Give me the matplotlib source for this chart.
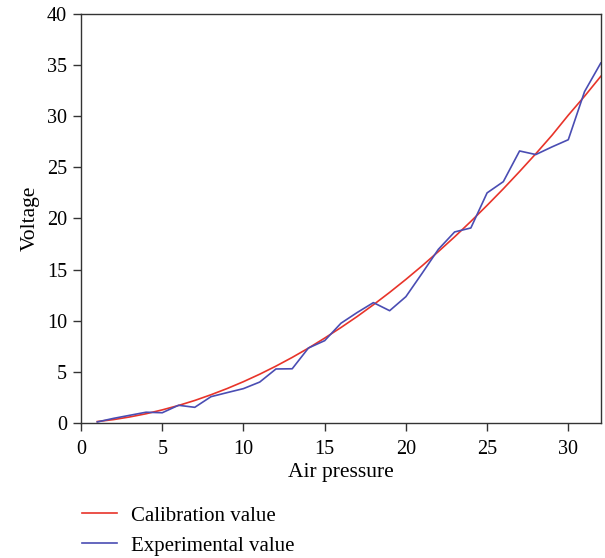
import matplotlib.pyplot as plt

# Air pressure steps
pressure = list(range(1, 33))

# Calibration curve
calibration = [0.14, 0.33, 0.59, 0.90, 1.28, 1.71, 2.20, 2.76, 3.37, 4.04,
               4.77, 5.56, 6.41, 7.32, 8.30, 9.33, 10.41, 11.56, 12.77, 14.04,
               15.37, 16.76, 18.20, 19.71, 21.28, 22.90, 24.59, 26.33, 28.14, 30.1,
               31.95, 33.9]

# Measured voltage
experimental = [0.1, 0.45, 0.75, 1.05, 1.0, 1.73, 1.53, 2.57, 2.97, 3.36,
                4.0, 5.28, 5.3, 7.33, 8.05, 9.75, 10.8, 11.77, 10.98, 12.35,
                14.64, 16.98, 18.68, 19.07, 22.5, 23.6, 26.6, 26.25, 27.0, 27.7,
                32.4, 35.2]

plt.rcParams['font.family'] = ['Liberation Serif', 'DejaVu Serif']

fig = plt.figure(figsize=(6.05, 5.58), dpi=100)
ax = fig.add_axes([0.134, 0.242, 0.859, 0.733])

ax.plot(pressure, calibration, color='#e8342a', linewidth=1.2, label='Calibration value')
ax.plot(pressure, experimental, color='#4a4db3', linewidth=1.2, label='Experimental value')

ax.set_xlim(0, 32)
ax.set_ylim(0, 40)
ax.set_xticks([0, 5, 10, 15, 20, 25, 30])
ax.set_yticks(range(0, 41, 5))
ax.tick_params(direction='out', length=6, width=1, labelsize=14.5, color='#333333', pad=4)
ax.tick_params(axis='x', pad=6)
for sp in ax.spines.values():
    sp.set_color('#333333')
    sp.set_linewidth(1)

ax.set_xlabel('Air pressure', fontsize=15.5, labelpad=3)
ax.set_ylabel('Voltage', fontsize=15.5, labelpad=5)

fig.legend(loc='upper left', bbox_to_anchor=(0.135, 0.093), frameon=False,
           fontsize=15, handlelength=1.7, handletextpad=0.65, labelspacing=0.5,
           borderaxespad=0, borderpad=0)

fig.savefig('out.png', dpi=100)
